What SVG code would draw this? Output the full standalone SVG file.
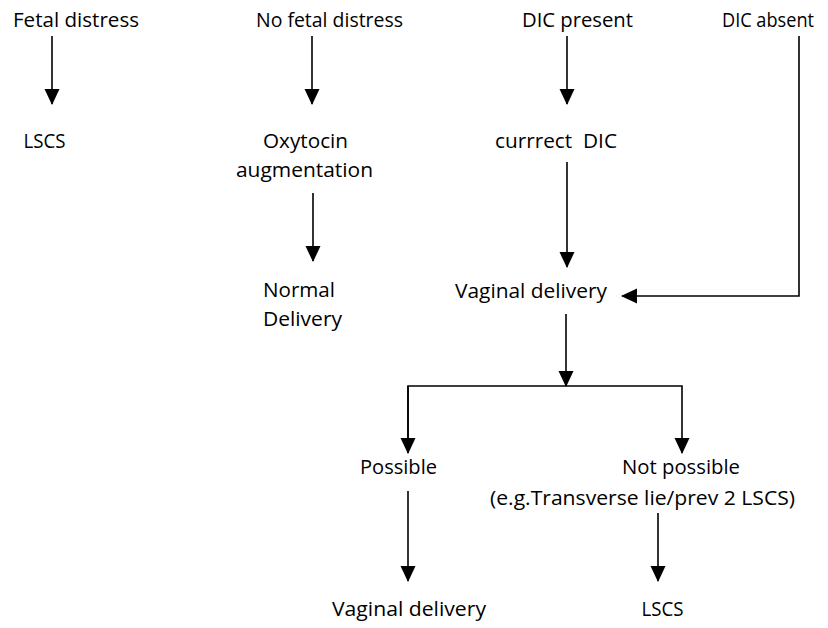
<svg xmlns="http://www.w3.org/2000/svg" width="828" height="628" viewBox="0 0 828 628">
<style>
text{font-family:"Open Sans","Lato","Liberation Sans",sans-serif;font-size:19.5px;fill:#000;white-space:pre}
.m{text-anchor:middle}
.c{fill:none;stroke:#000;stroke-width:1.6}
</style>
<defs>
<marker id="ah" viewBox="0 0 16 16" refX="15" refY="8" markerWidth="16" markerHeight="16" markerUnits="userSpaceOnUse" orient="auto">
<path d="M0,0.5 L16,8 L0,15.5 z" fill="#000"/>
</marker>
</defs>
<rect width="828" height="628" fill="#fff"/>
<g id="connectors">
<line class="c" x1="52" y1="36" x2="52" y2="104" marker-end="url(#ah)"/>
<line class="c" x1="312" y1="36" x2="312" y2="104" marker-end="url(#ah)"/>
<line class="c" x1="567" y1="36" x2="567" y2="104" marker-end="url(#ah)"/>
<line class="c" x1="313" y1="193" x2="313" y2="261" marker-end="url(#ah)"/>
<line class="c" x1="567" y1="162" x2="567" y2="267" marker-end="url(#ah)"/>
<polyline class="c" points="799,36 799,296 622,296" marker-end="url(#ah)"/>
<line class="c" x1="566" y1="314" x2="566" y2="386" marker-end="url(#ah)"/>
<polyline class="c" points="408,453 408,386 682,386 682,453" marker-end="url(#ah)"/>
<line class="c" x1="408" y1="386" x2="408" y2="453" marker-end="url(#ah)"/>
<line class="c" x1="408" y1="491" x2="408" y2="581" marker-end="url(#ah)"/>
<line class="c" x1="658" y1="513" x2="658" y2="581" marker-end="url(#ah)"/>
</g>
<g id="fetal-distress"><text class="m" x="76" y="27" textLength="126" lengthAdjust="spacingAndGlyphs">Fetal distress</text></g>
<g id="no-fetal-distress"><text class="m" x="329.5" y="27" textLength="147" lengthAdjust="spacingAndGlyphs">No fetal distress</text></g>
<g id="dic-present"><text class="m" x="577.5" y="27" textLength="111" lengthAdjust="spacingAndGlyphs">DIC present</text></g>
<g id="dic-absent"><text class="m" x="768" y="27" textLength="92" lengthAdjust="spacingAndGlyphs">DIC absent</text></g>
<g id="lscs-1"><text class="m" x="44.5" y="148" textLength="42" lengthAdjust="spacingAndGlyphs">LSCS</text></g>
<g id="oxytocin"><text class="m" x="305.5" y="148" textLength="85" lengthAdjust="spacingAndGlyphs">Oxytocin</text><text class="m" x="304.5" y="177" textLength="137" lengthAdjust="spacingAndGlyphs">augmentation</text></g>
<g id="correct-dic"><text class="m" x="556" y="148" textLength="122" lengthAdjust="spacingAndGlyphs">currrect  DIC</text></g>
<g id="normal-delivery"><text x="263" y="297" textLength="72" lengthAdjust="spacingAndGlyphs">Normal</text><text x="263" y="326" textLength="79" lengthAdjust="spacingAndGlyphs">Delivery</text></g>
<g id="vaginal-delivery-1"><text class="m" x="531" y="298" textLength="152" lengthAdjust="spacingAndGlyphs">Vaginal delivery</text></g>
<g id="possible"><text class="m" x="398.5" y="474" textLength="77" lengthAdjust="spacingAndGlyphs">Possible</text></g>
<g id="not-possible"><text class="m" x="681" y="474" textLength="118" lengthAdjust="spacingAndGlyphs">Not possible</text><text class="m" x="642.5" y="505" textLength="305" lengthAdjust="spacingAndGlyphs">(e.g.Transverse lie/prev 2 LSCS)</text></g>
<g id="vaginal-delivery-2"><text class="m" x="409" y="616" textLength="154" lengthAdjust="spacingAndGlyphs">Vaginal delivery</text></g>
<g id="lscs-2"><text class="m" x="662.5" y="616" textLength="42" lengthAdjust="spacingAndGlyphs">LSCS</text></g>
</svg>
